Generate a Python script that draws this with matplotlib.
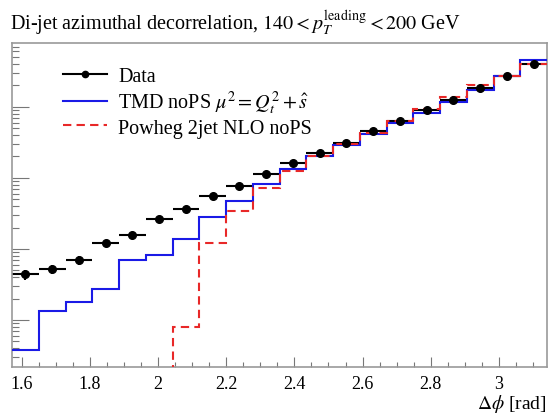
import numpy as np
import matplotlib
matplotlib.use("Agg")
import matplotlib.pyplot as plt
from matplotlib.lines import Line2D
from matplotlib.ticker import MultipleLocator, LogLocator, NullFormatter

plt.rcParams['font.family'] = ['Liberation Serif', 'DejaVu Serif']
plt.rcParams['mathtext.fontset'] = 'stix'

# Bins: 20 equal bins from pi/2 to pi
n_bins = 20
edges = np.linspace(np.pi / 2, np.pi, n_bins + 1)

data_vals = [4.41e-3, 5.18e-3, 6.94e-3, 1.22e-2, 1.59e-2, 2.62e-2, 3.62e-2, 5.57e-2,
             7.64e-2, 0.113, 0.161, 0.227, 0.314, 0.459, 0.641, 0.908, 1.26, 1.81,
             2.71, 3.94]
data_relerr = [0.16, 0.15, 0.14, 0.08, 0.07, 0.06, 0.05, 0.04, 0.03, 0.03, 0.03, 0.02,
               0.02, 0.02, 0.02, 0.02, 0.02, 0.02, 0.02, 0.02]
tmd_vals = [3.78e-4, 1.33e-3, 1.77e-3, 2.76e-3, 7.0e-3, 8.15e-3, 1.37e-2, 2.79e-2,
            4.70e-2, 8.22e-2, 0.134, 0.200, 0.294, 0.417, 0.589, 0.805, 1.16, 1.73,
            2.67, 4.59]
powheg_vals = [0, 0, 0, 0, 0, 0, 7.84e-4, 1.20e-2, 3.46e-2, 7.16e-2, 0.124, 0.205,
               0.30, 0.431, 0.641, 0.938, 1.37, 2.0, 2.67, 3.94]

labels = ["Data", r"TMD noPS $\mu^2 = Q_t^2 + \hat{s}$", "Powheg 2jet NLO noPS"]
title = r"Di-jet azimuthal decorrelation, $140 < p_T^{\mathrm{leading}} < 200$ GeV"
xlabel = r"$\Delta\phi$ [rad]"

fig = plt.figure(figsize=(5.49, 4.14), dpi=100)
ax = fig.add_axes([12 / 549, 1 - 368 / 414, (547 - 12) / 549, (368 - 44) / 414])
ax.set_yscale('log')

centers = 0.5 * (edges[:-1] + edges[1:])
halfw = 0.5 * (edges[1:] - edges[:-1])
dv = np.array(data_vals)
derr = dv * np.array(data_relerr)

blue = '#1a1ae6'
red = '#e82828'

ax.errorbar(centers, dv, xerr=halfw, yerr=derr, fmt='none', ecolor='black',
            elinewidth=1.5, capsize=0, zorder=2)
ax.stairs(tmd_vals, edges, color=blue, lw=1.5, zorder=3, baseline=None)
pv = np.array(powheg_vals, dtype=float)
pv_plot = np.where(pv > 0, pv, 1e-9)
ax.stairs(pv_plot, edges, color=red, lw=1.5, ls=(0, (4, 2.5)), zorder=4,
          baseline=None)
ax.plot(centers, dv, 'o', color='black', ms=5.5, zorder=5)

ax.set_xlim(np.pi / 2, np.pi)
ax.set_ylim(2.18e-4, 7.9)

ax.xaxis.set_major_locator(MultipleLocator(0.2))
ax.xaxis.set_minor_locator(MultipleLocator(0.05))
ax.xaxis.set_major_formatter(matplotlib.ticker.FuncFormatter(
    lambda v, p: ("%g" % round(v, 2))))
ax.yaxis.set_major_locator(LogLocator(base=10, numticks=20))
ax.yaxis.set_minor_locator(LogLocator(base=10, subs=np.arange(2, 10), numticks=20))
ax.yaxis.set_major_formatter(NullFormatter())
ax.yaxis.set_minor_formatter(NullFormatter())

gray = '#999999'
for s in ax.spines.values():
    s.set_color(gray)
    s.set_linewidth(1.2)
ax.tick_params(axis='x', which='major', direction='in', length=7, width=0.8,
               color='#777777', labelsize=13, pad=6, top=False)
ax.tick_params(axis='x', which='minor', direction='in', length=3.6, width=0.8,
               color='#777777', top=False)
ax.tick_params(axis='y', which='major', direction='in', length=12, width=0.8,
               color='#777777', right=False)
ax.tick_params(axis='y', which='minor', direction='in', length=5, width=0.8,
               color='#777777', right=False)

fig.text(10 / 549, 1 - 30 / 414, title, fontsize=14.5, ha='left', va='baseline')
fig.text(547 / 549, 1 - 409 / 414, xlabel, fontsize=14, ha='right', va='baseline')

handles = [
    Line2D([], [], color='black', lw=1.5, marker='o', ms=4.5),
    Line2D([], [], color=blue, lw=1.5),
    Line2D([], [], color=red, lw=1.5, ls=(0, (4, 2.5))),
]
leg = fig.legend(handles, labels, loc='upper left',
                 bbox_to_anchor=(63 / 549, 1 - 68 / 414), frameon=False,
                 fontsize=14.5, handlelength=2.2, handletextpad=0.55,
                 labelspacing=0.12, borderpad=0, borderaxespad=0)

fig.savefig('out.png', dpi=100)
